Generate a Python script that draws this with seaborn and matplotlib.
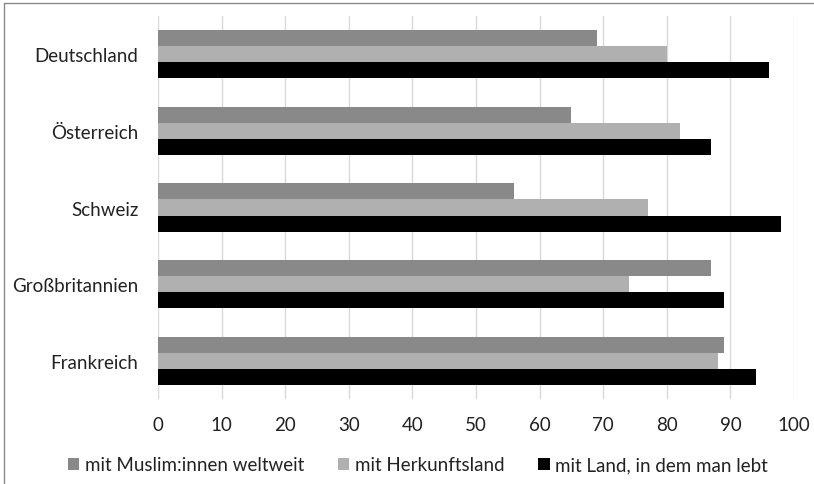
import matplotlib
matplotlib.use("Agg")
import matplotlib.pyplot as plt
import seaborn as sns
import pandas as pd
from matplotlib.lines import Line2D
from matplotlib.patches import Patch

countries = ["Deutschland", "Österreich", "Schweiz", "Großbritannien", "Frankreich"]
series = ["mit Muslim:innen weltweit", "mit Herkunftsland", "mit Land, in dem man lebt"]
muslim = [69, 65, 56, 87, 89]
herkunft = [80, 82, 77, 74, 88]
land = [96, 87, 98, 89, 94]
colors = ["#898989", "#b0b0b0", "#000000"]
xticks = [0, 10, 20, 30, 40, 50, 60, 70, 80, 90, 100]

rows = []
for s, vals in zip(series, [muslim, herkunft, land]):
    for c, v in zip(countries, vals):
        rows.append({"Land": c, "Serie": s, "Wert": v})
df = pd.DataFrame(rows)

sns.set_theme(style="white")
plt.rcParams["font.family"] = ["Lato", "DejaVu Sans"]

fig = plt.figure(figsize=(8.14, 4.85), dpi=100)
ax = fig.add_axes([158/814, 1-400/485, (794-158)/814, (400-17)/485])

sns.barplot(data=df, y="Land", x="Wert", hue="Serie", order=countries,
            hue_order=series, palette=colors, orient="h", width=0.63,
            saturation=1, linewidth=0, ax=ax, legend=False, zorder=3)

ax.set_xlim(0, 100)
ax.set_xticks(xticks)
ax.set_xticklabels([str(t) for t in xticks], fontsize=13.5, color="#222222")
ax.tick_params(axis="x", length=0, pad=12)
ax.tick_params(axis="y", length=0, pad=14, labelsize=13.5, labelcolor="#222222")
ax.set_xlabel("")
ax.set_ylabel("")
ax.set_ylim(4.5, -0.5)
for sp in ax.spines.values():
    sp.set_visible(False)
ax.grid(axis="x", color="#d9d9d9", linewidth=1, zorder=0)
ax.set_axisbelow(True)

handles = [Patch(facecolor=c, edgecolor="none") for c in colors]
fig.legend(handles, series, loc="center", bbox_to_anchor=(418/814, 1-466/485),
           ncol=3, frameon=False, fontsize=13.5, handlelength=0.6, handleheight=0.6,
           handletextpad=0.3, columnspacing=1.8, labelcolor="#222222")

fig.add_artist(Line2D([4/814, 4/814], [0, 1-4/485], transform=fig.transFigure, color="#8a8a8a", linewidth=1))
fig.add_artist(Line2D([4/814, 1], [1-4/485, 1-4/485], transform=fig.transFigure, color="#8a8a8a", linewidth=1))

fig.savefig("out.png", dpi=100)
